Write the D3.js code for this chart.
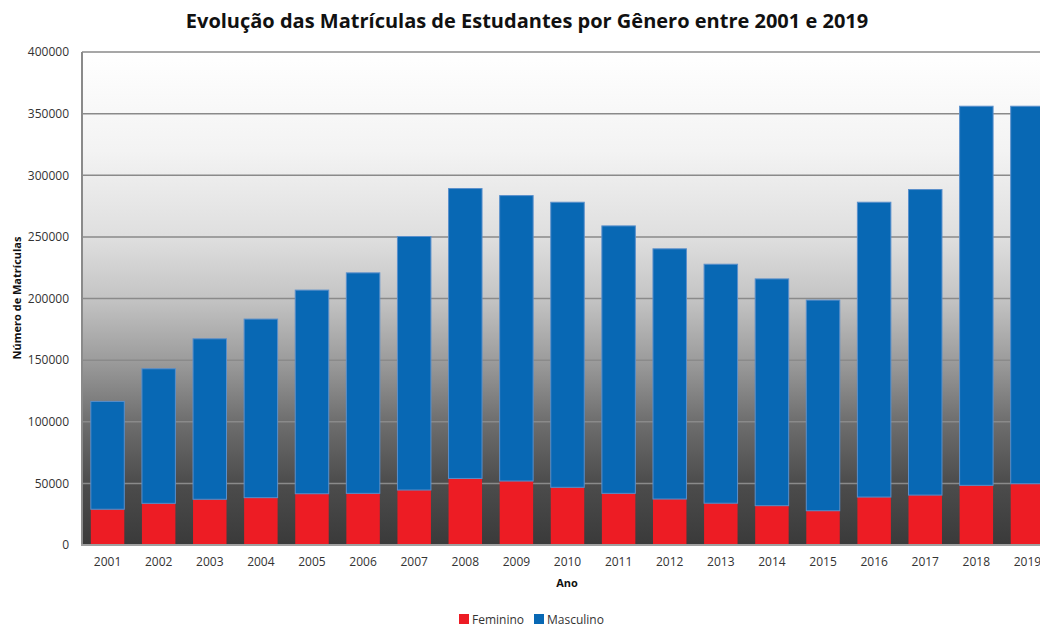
<!DOCTYPE html>
<html>
<head>
<meta charset="utf-8">
<script src="https://cdn.jsdelivr.net/npm/d3@7/dist/d3.min.js"></script>
<style>
  body { margin: 0; background: #fff; }
  svg { display: block; font-family: "Open Sans", "DejaVu Sans", sans-serif; }
</style>
</head>
<body>
<div id="chart"></div>
<script>
// dados
var anos = ["2001","2002","2003","2004","2005","2006","2007","2008","2009","2010",
            "2011","2012","2013","2014","2015","2016","2017","2018","2019"];
var feminino = [29000, 33800, 37100, 38400, 41600, 41900, 44600, 54000, 51900, 46800,
                41900, 37300, 33900, 31900, 27800, 38900, 40500, 48400, 49700];
var totais = [116500, 143000, 167300, 183300, 206800, 220800, 250300, 289200, 283500, 278100,
              258900, 240300, 227800, 215900, 198700, 278100, 288400, 356000, 356000];
var masculino = totais.map(function (t, i) { return t - feminino[i]; });
var yTicks = [0, 50000, 100000, 150000, 200000, 250000, 300000, 350000, 400000];
var series = ["Feminino", "Masculino"];

var W = 1040, H = 630;
var m = {left: 82, top: 52, bottom: 545, right: 1053};
var cores = {Feminino: "#ED1C24", Masculino: "#0868B4"};

var svg = d3.select("#chart").append("svg").attr("width", W).attr("height", H);

var grad = svg.append("defs").append("linearGradient").attr("id", "bg")
    .attr("x1", 0).attr("y1", 0).attr("x2", 0).attr("y2", 1);
[[0, "#ffffff"], [0.2, "#f3f3f3"], [0.38, "#dedede"], [0.5, "#c4c4c4"], [0.625, "#9c9c9c"],
 [0.75, "#6e6e6e"], [0.875, "#4c4c4c"], [1, "#3a3a3a"]].forEach(function (s) {
    grad.append("stop").attr("offset", s[0]).attr("stop-color", s[1]);
});

var x = d3.scaleBand().domain(anos).range([m.left, m.right]).paddingInner(0.345).paddingOuter(0.1725);
var y = d3.scaleLinear().domain([0, 400000]).range([m.bottom, m.top]);

svg.append("rect").attr("x", m.left).attr("y", m.top)
    .attr("width", m.right - m.left).attr("height", m.bottom - m.top).attr("fill", "url(#bg)");

// grade
svg.append("g").selectAll("line").data(yTicks.slice(1)).enter().append("line")
    .attr("x1", m.left).attr("x2", m.right)
    .attr("y1", function (d) { return y(d); }).attr("y2", function (d) { return y(d); })
    .attr("stroke", "#8a8a8a").attr("stroke-width", 1.5);

// barras empilhadas
var tabela = anos.map(function (a, i) { return {ano: a, Feminino: feminino[i], Masculino: masculino[i]}; });
var pilhas = d3.stack().keys(series)(tabela);

svg.append("g").selectAll("g").data(pilhas).enter().append("g")
    .attr("fill", function (d) { return cores[d.key]; })
    .attr("stroke", function (d) { return d.key == "Masculino" ? "#5a8fcb" : "none"; })
    .attr("stroke-width", 1)
    .selectAll("rect").data(function (d) { return d; }).enter().append("rect")
    .attr("x", function (d) { return x(d.data.ano); })
    .attr("width", x.bandwidth())
    .attr("y", function (d) { return y(d[1]); })
    .attr("height", function (d) { return y(d[0]) - y(d[1]); });

// eixos
var yAxis = svg.append("g").attr("transform", "translate(" + m.left + ",0)")
    .call(d3.axisLeft(y).tickValues(yTicks).tickSize(0).tickPadding(13).tickFormat(d3.format("d")));
yAxis.select(".domain").remove();
yAxis.selectAll("text").attr("font-size", 12).attr("fill", "#333")
    .style("font-family", "'Open Sans', sans-serif");

var xAxis = svg.append("g").attr("transform", "translate(0," + m.bottom + ")")
    .call(d3.axisBottom(x).tickSize(0).tickPadding(12));
xAxis.select(".domain").remove();
xAxis.selectAll("text").attr("font-size", 12).attr("fill", "#333")
    .style("font-family", "'Open Sans', sans-serif");

svg.append("line").attr("x1", m.left).attr("x2", m.left).attr("y1", m.top).attr("y2", m.bottom + 1)
    .attr("stroke", "#8a8a8a").attr("stroke-width", 2);
svg.append("line").attr("x1", m.left - 1).attr("x2", m.right).attr("y1", m.bottom).attr("y2", m.bottom)
    .attr("stroke", "#a0a0a0").attr("stroke-width", 2);

// titulos
svg.append("text").attr("x", 527).attr("y", 28).attr("text-anchor", "middle")
    .attr("font-size", 20).attr("font-weight", "bold").attr("fill", "#111")
    .text("Evolução das Matrículas de Estudantes por Gênero entre 2001 e 2019");
svg.append("text").attr("x", 567).attr("y", 587).attr("text-anchor", "middle")
    .attr("font-size", 11).attr("font-weight", "bold").attr("fill", "#111").text("Ano");
svg.append("text").attr("transform", "translate(21,298) rotate(-90)").attr("text-anchor", "middle")
    .attr("font-size", 11).attr("font-weight", "bold").attr("fill", "#111").text("Número de Matrículas");

// legenda
var leg = svg.append("g").selectAll("g").data(series).enter().append("g")
    .attr("transform", function (d, i) { return "translate(" + (i == 0 ? 459 : 534) + ",614)"; });
leg.append("rect").attr("width", 10).attr("height", 10).attr("fill", function (d) { return cores[d]; });
leg.append("text").attr("x", 13).attr("y", 9.5).attr("font-size", 12).attr("fill", "#333").text(function (d) { return d; });
</script>
</body>
</html>
